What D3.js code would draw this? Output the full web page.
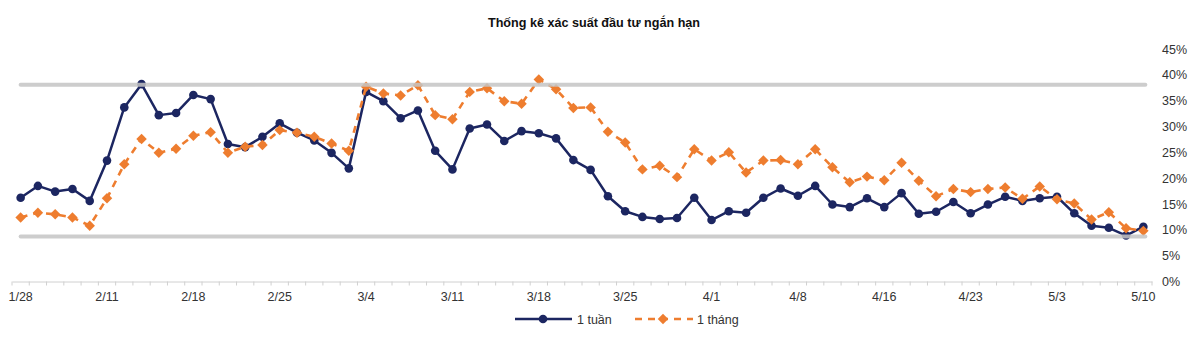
<!DOCTYPE html>
<html>
<head>
<meta charset="utf-8">
<script src="https://cdn.jsdelivr.net/npm/d3@7"></script>
<style>
  html, body { margin: 0; padding: 0; background: #fff; }
  svg { display: block; font-family: "Liberation Sans", Arial, sans-serif; }
</style>
</head>
<body>
<svg id="chart" width="1200" height="337"></svg>
<script>
// ---------- DATA ----------
const title = "Thống kê xác suất đầu tư ngắn hạn";
const seriesNames = ["1 tuần", "1 tháng"];
// 66 trading sessions; labels shown every 5th session
const tickLabels = ["1/28", "2/11", "2/18", "2/25", "3/4", "3/11", "3/18", "3/25", "4/1", "4/8", "4/16", "4/23", "5/3", "5/10"];
const week = [
  16.2, 18.5, 17.4, 17.9, 15.6, 23.4, 33.7, 38.2, 32.2, 32.6,
  36.1, 35.3, 26.6, 26.0, 28.0, 30.6, 28.8, 27.3, 24.9, 21.9,
  36.7, 34.9, 31.6, 33.1, 25.3, 21.7, 29.6, 30.4, 27.2, 29.1,
  28.7, 27.7, 23.5, 21.6, 16.5, 13.6, 12.5, 12.1, 12.3, 16.2,
  11.9, 13.6, 13.3, 16.2, 18.0, 16.6, 18.5, 14.9, 14.4, 16.1,
  14.4, 17.1, 13.1, 13.5, 15.4, 13.2, 14.9, 16.4, 15.6, 16.1,
  16.4, 13.2, 10.8, 10.4, 8.9, 10.6
];
const month = [
  12.4, 13.3, 13.0, 12.4, 10.8, 16.1, 22.7, 27.6, 24.9, 25.7,
  28.2, 28.9, 24.9, 26.1, 26.4, 29.3, 28.8, 28.0, 26.7, 25.3,
  37.7, 36.4, 36.0, 38.0, 32.2, 31.4, 36.7, 37.4, 34.9, 34.4,
  39.1, 37.2, 33.6, 33.7, 29.0, 26.9, 21.7, 22.4, 20.2, 25.6,
  23.4, 25.0, 21.1, 23.4, 23.5, 22.7, 25.6, 22.1, 19.2, 20.3,
  19.6, 23.0, 19.5, 16.5, 17.9, 17.3, 17.9, 18.2, 16.0, 18.4,
  15.9, 15.1, 12.0, 13.4, 10.3, 9.8
];
const bands = [38.1, 8.7];            // upper / lower reference lines (%)
const yTicks = [0, 5, 10, 15, 20, 25, 30, 35, 40, 45];

// ---------- LAYOUT ----------
const svg = d3.select("#chart");
const categories = d3.range(week.length);
const labelEvery = 5;

const x = d3.scaleBand().domain(categories).range([12, 1152]).paddingInner(0).paddingOuter(0);
const cx = i => x(i) + x.bandwidth() / 2;
const y = d3.scaleLinear().domain([0, 45]).range([281.5, 49]);

const NAVY = "#1c2661", ORANGE = "#ee7d2f", GRAY = "#c4c4c4";
const FS = 12.5;

// title
svg.append("text")
  .attr("x", 594).attr("y", 27)
  .attr("text-anchor", "middle")
  .attr("font-size", 12.6).attr("font-weight", "bold").attr("fill", "#111")
  .text(title);

// y axis labels on right (no line)
const yAxis = d3.axisRight(y).tickValues(yTicks).tickFormat(d => d + "%").tickSize(0).tickPadding(0);
const yg = svg.append("g").attr("transform", "translate(1162,0)").call(yAxis);
yg.select(".domain").remove();
yg.selectAll("text").attr("font-size", FS).attr("fill", "#333").attr("font-family", "Liberation Sans, Arial, sans-serif");

// x axis
const xAxis = d3.axisBottom(x).tickValues([]).tickSizeOuter(0);
const xg = svg.append("g").attr("transform", `translate(0,${y(0)})`).call(xAxis);
xg.select(".domain").attr("stroke", "#d0d0d0").attr("stroke-width", 1);
// tick marks at category boundaries
const boundaries = d3.range(week.length + 1).map(i => i === week.length ? x.range()[1] : x(i));
xg.selectAll("line.bt").data(boundaries).join("line")
  .attr("class", "bt")
  .attr("x1", d => d).attr("x2", d => d)
  .attr("y1", 0).attr("y2", 4)
  .attr("stroke", "#d0d0d0").attr("stroke-width", 1);
// labels every 5th category
xg.selectAll("text.lbl").data(tickLabels).join("text")
  .attr("class", "lbl")
  .attr("x", (d, k) => cx(k * labelEvery))
  .attr("y", 19)
  .attr("text-anchor", "middle")
  .attr("font-size", FS).attr("fill", "#333")
  .text(d => d);

// lines
const line = d3.line().x((d, i) => cx(i)).y(d => y(d));

svg.append("path").datum(week)
  .attr("d", line).attr("fill", "none")
  .attr("stroke", NAVY).attr("stroke-width", 2.5).attr("stroke-linejoin", "round");
svg.append("g").selectAll("circle").data(week).join("circle")
  .attr("cx", (d, i) => cx(i)).attr("cy", d => y(d)).attr("r", 4.3)
  .attr("fill", NAVY);

svg.append("path").datum(month)
  .attr("d", line).attr("fill", "none")
  .attr("stroke", ORANGE).attr("stroke-width", 2.6).attr("stroke-dasharray", "7,6");
const diamond = d3.symbol().type(d3.symbolDiamond2).size(70);
svg.append("g").selectAll("path").data(month).join("path")
  .attr("d", diamond)
  .attr("transform", (d, i) => `translate(${cx(i)},${y(d)})`)
  .attr("fill", ORANGE);

// reference bands (drawn on top, slightly transparent)
svg.append("g").selectAll("line").data(bands).join("line")
  .attr("x1", cx(0)).attr("x2", cx(week.length - 1) + 2)
  .attr("y1", d => y(d)).attr("y2", d => y(d))
  .attr("stroke", GRAY).attr("stroke-width", 4).attr("stroke-opacity", 0.85)
  .attr("stroke-linecap", "round");

// legend
const lg = svg.append("g").attr("transform", "translate(0,319)");
lg.append("line").attr("x1", 515).attr("x2", 572).attr("y1", 0).attr("y2", 0)
  .attr("stroke", NAVY).attr("stroke-width", 2.5);
lg.append("circle").attr("cx", 543).attr("cy", 0).attr("r", 4.3).attr("fill", NAVY);
lg.append("text").attr("x", 577).attr("y", 4.5).attr("font-size", FS).attr("fill", "#333").text(seriesNames[0]);

lg.append("line").attr("x1", 635).attr("x2", 693).attr("y1", 0).attr("y2", 0)
  .attr("stroke", ORANGE).attr("stroke-width", 2.6).attr("stroke-dasharray", "7,6");
lg.append("path").attr("d", diamond).attr("transform", "translate(663,0)").attr("fill", ORANGE);
lg.append("text").attr("x", 697).attr("y", 4.5).attr("font-size", FS).attr("fill", "#333").text(seriesNames[1]);
</script>
</body>
</html>
